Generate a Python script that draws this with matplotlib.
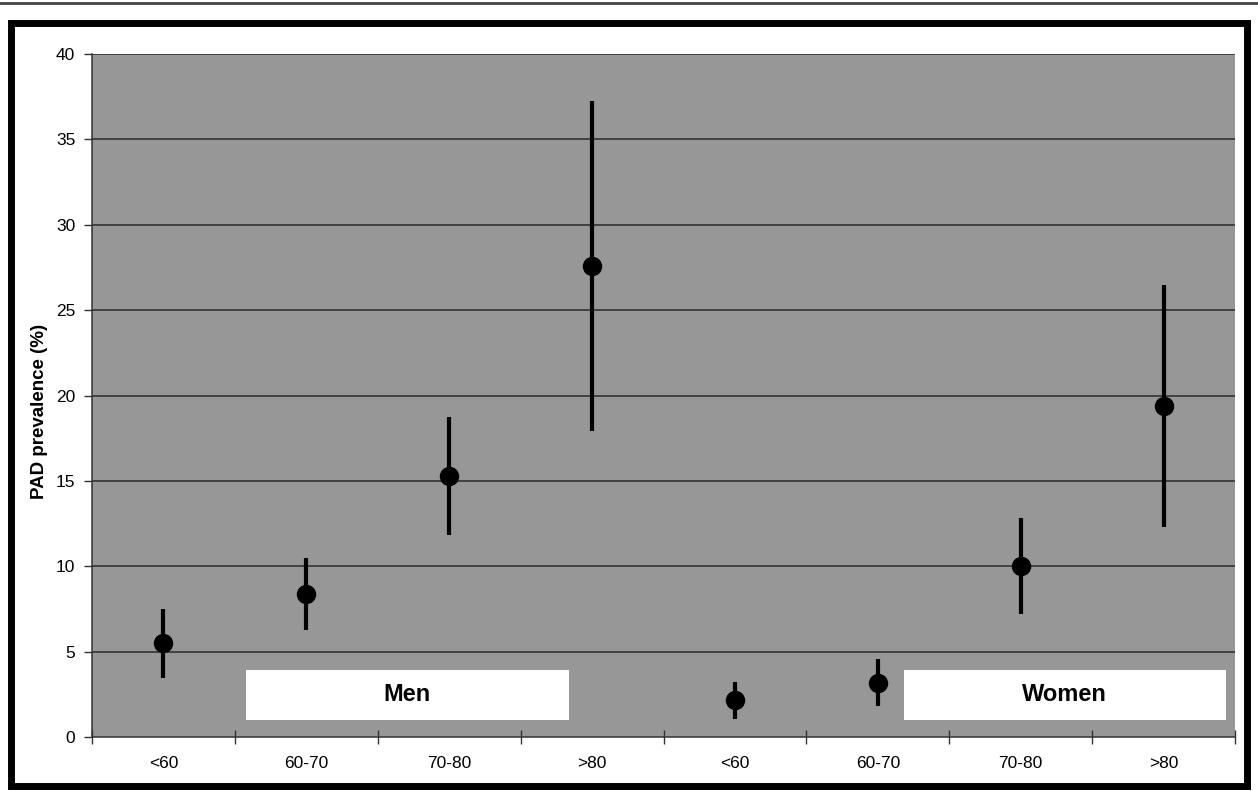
import matplotlib
matplotlib.use("Agg")
import matplotlib.pyplot as plt
from matplotlib.patches import Rectangle
from matplotlib.lines import Line2D

# ---- data ----
categories = ["<60", "60-70", "70-80", ">80", "<60", "60-70", "70-80", ">80"]
prevalence = [5.5, 8.4, 15.3, 27.6, 2.15, 3.15, 10.0, 19.4]
ci_low = [3.45, 6.25, 11.85, 17.95, 1.05, 1.8, 7.2, 12.3]
ci_high = [7.5, 10.5, 18.75, 37.25, 3.2, 4.55, 12.8, 26.5]
group_labels = ["Men", "Women"]
yticks = [0, 5, 10, 15, 20, 25, 30, 35, 40]

plt.rcParams['font.family'] = ['Liberation Sans', 'DejaVu Sans']

W, H = 1258, 791
fig = plt.figure(figsize=(W / 100, H / 100), dpi=100)
fig.patch.set_facecolor("white")

ax = fig.add_axes([92 / W, 1 - 737 / H, (1235 - 92) / W, (737 - 54) / H])
ax.set_facecolor("#979797")

x = list(range(len(categories)))
yerr = [[p - l for p, l in zip(prevalence, ci_low)],
        [h - p for p, h in zip(prevalence, ci_high)]]

for y in yticks[1:]:
    ax.axhline(y, color="#2a2a2a", lw=1.1, zorder=1)

ax.errorbar(x, prevalence, yerr=yerr, fmt="o", color="black", ecolor="black",
            elinewidth=3.0, capsize=0, markersize=13, zorder=3)

ax.set_xlim(-0.5, len(categories) - 0.5)
ax.set_ylim(0, 40)
ax.set_yticks(yticks)
ax.set_yticklabels([str(v) for v in yticks], fontsize=12.5)
ax.set_xticks(x)
ax.set_xticklabels(categories, fontsize=12.5)
ax.set_xticks([i - 0.5 for i in range(len(categories) + 1)], minor=True)
ax.tick_params(axis="x", which="major", length=0, pad=14)
ax.tick_params(axis="x", which="minor", length=10, direction="inout", color="#333333", width=1)
ax.tick_params(axis="y", length=6, direction="out", color="#333333", width=1, pad=6)

for s in ["top", "right"]:
    ax.spines[s].set_visible(False)
for s in ["left", "bottom"]:
    ax.spines[s].set_color("#333333")
    ax.spines[s].set_linewidth(1.1)

ax.set_ylabel("PAD prevalence (%)", fontsize=13.5, fontweight="bold")
ax.yaxis.set_label_coords(-0.0385, 0.476)

# group label boxes
boxes = [(0.578, 2.838), (5.18, 7.435)]
for (x0, x1), lab in zip(boxes, group_labels):
    ax.add_patch(Rectangle((x0, 1.0), x1 - x0, 2.92, facecolor="white",
                           edgecolor="none", zorder=4))
    ax.text((x0 + x1) / 2, 2.46, lab, ha="center", va="center",
            fontsize=17, fontweight="bold", zorder=5)

# outer frame and top rule
fig.add_artist(Rectangle((10.5 / W, 1 - 786 / H), (1246.5 - 10.5) / W, (786 - 22.5) / H,
                         transform=fig.transFigure, fill=False, edgecolor="black",
                         linewidth=5))
fig.add_artist(Line2D([0, 1], [1 - 2.5 / H, 1 - 2.5 / H], transform=fig.transFigure,
                      color="#444444", linewidth=2))

fig.savefig("out.png", dpi=100)
